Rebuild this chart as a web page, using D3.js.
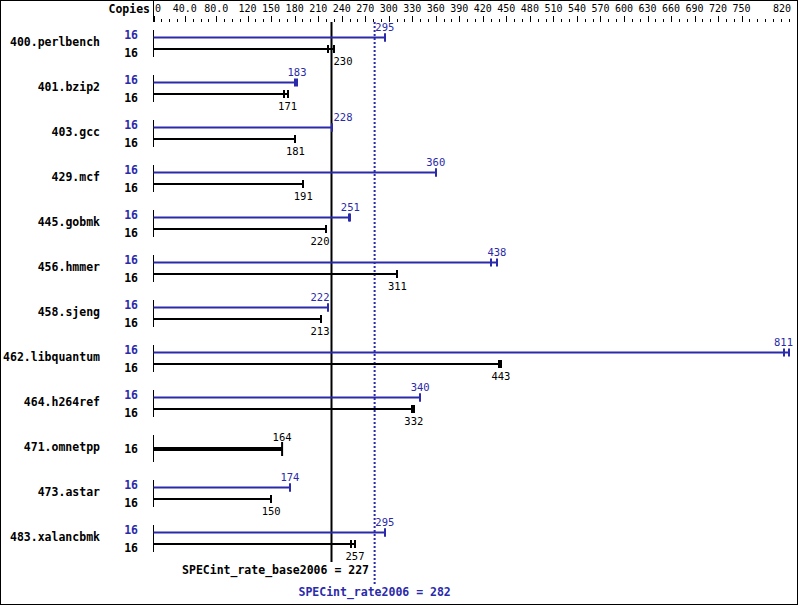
<!DOCTYPE html>
<html>
<head>
<meta charset="utf-8">
<script src="https://cdn.jsdelivr.net/npm/d3@7"></script>
<style>
  html, body { margin: 0; padding: 0; background: #fff; }
  svg { display: block; }
  text { font-family: "DejaVu Sans Mono", "Liberation Mono", monospace; font-size: 10.5px; }
  .b { font-weight: bold; font-size: 11.5px; }
  .t { font-size: 10px; }
</style>
</head>
<body>
<svg id="chart" width="799" height="606"></svg>
<script>
// ---- data ----
const benchmarks = ["400.perlbench","401.bzip2","403.gcc","429.mcf","445.gobmk","456.hmmer",
  "458.sjeng","462.libquantum","464.h264ref","471.omnetpp","473.astar","483.xalancbmk"];
const peakCopies = [16,16,16,16,16,16,16,16,16,null,16,16];
const baseCopies = [16,16,16,16,16,16,16,16,16,16,16,16];
const peakValues = [295,183,228,360,251,438,222,811,340,null,174,295];
const baseValues = [230,171,181,191,220,311,213,443,332,164,150,257];
// second run marker (spread of runs) where visible
const peakOther  = [295,181,228,360,249,430,222,804,340,null,174,295];
const baseOther  = [222,167,181,191,220,310,213,441,330,164,150,252];
const tickValues = [0,40,80,120,150,180,210,240,270,300,330,360,390,420,450,480,510,540,570,600,630,660,690,720,750,820];
const tickLabels = ["0","40.0","80.0","120","150","180","210","240","270","300","330","360","390","420","450","480","510","540","570","600","630","660","690","720","750","820"];
const baseMean = 227;
const peakMean = 282;
const baseMeanLabel = "SPECint_rate_base2006 = 227";
const peakMeanLabel = "SPECint_rate2006 = 282";

// ---- drawing ----
const BLUE = "#2a2aaa";
const svg = d3.select("#chart");
const W = 799, H = 606;
const x = d3.scaleLinear().domain([0, 820]).range([153.5, 796.5]);
const rowY = d3.scaleLinear().domain([0, 1]).range([43, 88]);
const axisY = 22;
const CW = 6.32;  // value label char width
const TW = 6.02;  // tick label char width

svg.append("rect").attr("x", 0.5).attr("y", 0.5).attr("width", W - 2).attr("height", H - 2)
  .attr("fill", "#fff").attr("stroke", "#000");

// header
svg.append("text").attr("class", "b").attr("x", 150).attr("y", 13).attr("text-anchor", "end").text("Copies");
svg.append("line").attr("x1", 153.5).attr("x2", 153.5).attr("y1", 0).attr("y2", axisY).attr("stroke", "#000");

// ticks
const minor = d3.range(0, 821, 10).filter(v => !tickValues.includes(v));
const gMinor = svg.append("g").attr("transform", `translate(0,${axisY})`)
  .call(d3.axisTop(x).tickValues(minor).tickSize(3).tickFormat(""));
const gMajor = svg.append("g").attr("transform", `translate(0,${axisY})`)
  .call(d3.axisTop(x).tickValues(tickValues).tickSize(6).tickFormat(""));
[gMinor, gMajor].forEach(g => { g.select(".domain").remove(); g.selectAll("line").attr("stroke", "#000").attr("shape-rendering", "crispEdges"); });

svg.append("g").selectAll("text").data(tickValues).join("text")
  .attr("class", "t")
  .attr("x", (d, i) => {
    const w = tickLabels[i].length * TW;
    let cx = x(d);
    if (cx - w / 2 < 155) cx = 155 + w / 2;
    if (cx + w / 2 > 791) cx = 791 - w / 2;
    return cx;
  })
  .attr("y", 12).attr("text-anchor", "middle").text((d, i) => tickLabels[i]);

// reference lines
svg.append("line").attr("x1", x(baseMean)).attr("x2", x(baseMean)).attr("y1", axisY).attr("y2", 562)
  .attr("stroke", "#000").attr("stroke-width", 2);
svg.append("line").attr("x1", x(peakMean)).attr("x2", x(peakMean)).attr("y1", axisY).attr("y2", 584)
  .attr("stroke", BLUE).attr("stroke-width", 2).attr("stroke-dasharray", "2,2");

function placeLabel(v, txt) {
  const w = txt.length * CW;
  let cx = x(v);
  const lx = x(baseMean);
  if (cx - w / 2 < lx + 1.5 && cx + w / 2 > lx - 1.5) {
    if (cx >= lx) cx = lx + 2 + w / 2; else cx = lx - 2 - w / 2;
  }
  if (cx + w / 2 > 793) cx = 793 - w / 2;
  return cx;
}

const rows = svg.append("g");
benchmarks.forEach((name, i) => {
  const c = rowY(i);
  const g = rows.append("g");
  g.append("text").attr("class", "b").attr("x", 100).attr("y", c + 3).attr("text-anchor", "end").text(name);
  g.append("line").attr("x1", x(0)).attr("x2", x(0)).attr("y1", c - 13).attr("y2", c + 14).attr("stroke", "#000");
  if (peakValues[i] == null) {
    const v = baseValues[i];
    g.append("text").attr("class", "b").attr("x", 138).attr("y", c + 5).attr("text-anchor", "end").text(baseCopies[i]);
    g.append("rect").attr("x", x(0)).attr("y", c - 1).attr("width", x(v) - x(0)).attr("height", 4).attr("fill", "#000");
    g.append("rect").attr("x", x(v) - 1).attr("y", c - 6).attr("width", 2).attr("height", 14).attr("fill", "#000");
    g.append("text").attr("x", placeLabel(v, String(v))).attr("y", c - 7).attr("text-anchor", "middle").text(v);
    return;
  }
  // peak
  const pv = peakValues[i], py = c - 5.5;
  g.append("text").attr("class", "b").attr("x", 138).attr("y", c - 4).attr("text-anchor", "end").attr("fill", BLUE).text(peakCopies[i]);
  g.append("rect").attr("x", x(0)).attr("y", py - 1).attr("width", x(pv) - x(0)).attr("height", 2).attr("fill", BLUE);
  [pv, peakOther[i]].forEach(v => g.append("rect").attr("x", Math.round(x(v)) - 1).attr("y", py - 4).attr("width", 2).attr("height", 8).attr("fill", BLUE));
  g.append("text").attr("x", placeLabel(pv, String(pv))).attr("y", c - 12).attr("text-anchor", "middle").attr("fill", BLUE).text(pv);
  // base
  const bv = baseValues[i], by = c + 6;
  g.append("text").attr("class", "b").attr("x", 138).attr("y", c + 13.5).attr("text-anchor", "end").text(baseCopies[i]);
  g.append("rect").attr("x", x(0)).attr("y", by - 1).attr("width", x(bv) - x(0)).attr("height", 2).attr("fill", "#000");
  [bv, baseOther[i]].forEach(v => g.append("rect").attr("x", Math.round(x(v)) - 1).attr("y", by - 4).attr("width", 2).attr("height", 8).attr("fill", "#000"));
  g.append("text").attr("x", placeLabel(bv, String(bv))).attr("y", c + 22).attr("text-anchor", "middle").text(bv);
});

svg.append("text").attr("class", "b").attr("x", 369).attr("y", 574).attr("text-anchor", "end").text(baseMeanLabel);
svg.append("text").attr("class", "b").attr("x", x(peakMean)).attr("y", 596).attr("text-anchor", "middle").attr("fill", BLUE).text(peakMeanLabel);
</script>
</body>
</html>
